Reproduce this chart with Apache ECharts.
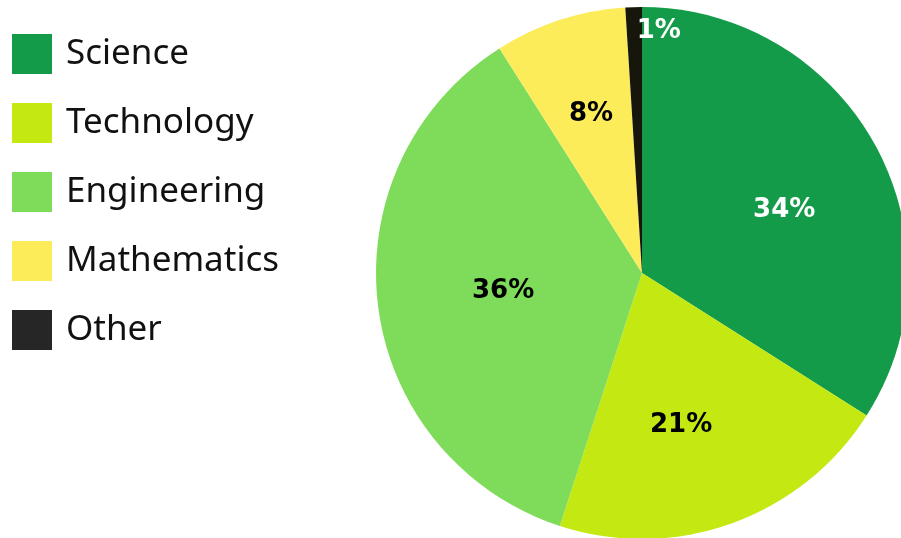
<!DOCTYPE html>
<html>
<head>
<meta charset="utf-8">
<script src="https://cdn.jsdelivr.net/npm/echarts@6/dist/echarts.min.js"></script>
<style>
html,body{margin:0;padding:0;background:#fff;}
#c{width:901px;height:538px;}
</style>
</head>
<body>
<div id="c"></div>
<script>
const categories = ['Science', 'Technology', 'Engineering', 'Mathematics', 'Other'];
const values = [34, 21, 36, 8, 1];
const sliceColors = ['#139b49', '#c4e812', '#7fdb5a', '#fcec5a', '#16160d'];
const legendColors = ['#139b49', '#c4e812', '#7fdb5a', '#fcec5a', '#262626'];
const labelColors = ['#ffffff', '#000000', '#000000', '#000000', '#ffffff'];
const labelOffsets = [[23, 3], [-7, 24], [-4, 1], [-9, -29], [21, -106]];

const chart = echarts.init(document.getElementById('c'), null, {renderer: 'canvas'});
chart.setOption({
  animation: false,
  backgroundColor: '#ffffff',
  legend: {
    orient: 'vertical',
    left: 12,
    top: 34,
    padding: 0,
    itemWidth: 40,
    itemHeight: 40,
    itemGap: 29,
    icon: 'rect',
    selectedMode: false,
    textStyle: {
      fontFamily: 'Noto Sans',
      fontSize: 35,
      color: '#111111',
      padding: [0, 0, 0, 9]
    },
    data: categories.map((n, i) => ({name: n, itemStyle: {color: legendColors[i]}}))
  },
  series: [{
    type: 'pie',
    center: [642, 273],
    radius: [0, 266],
    startAngle: 90,
    clockwise: true,
    avoidLabelOverlap: false,
    labelLine: {show: false},
    itemStyle: {borderWidth: 0},
    label: {
      show: true,
      position: 'inside',
      formatter: '{c}%',
      fontFamily: 'DejaVu Sans',
      fontWeight: 'bold',
      fontSize: 26
    },
    emphasis: {disabled: true},
    data: categories.map((n, i) => ({
      name: n,
      value: values[i],
      itemStyle: {color: sliceColors[i]},
      label: {color: labelColors[i], offset: labelOffsets[i]}
    }))
  }]
});
</script>
</body>
</html>
